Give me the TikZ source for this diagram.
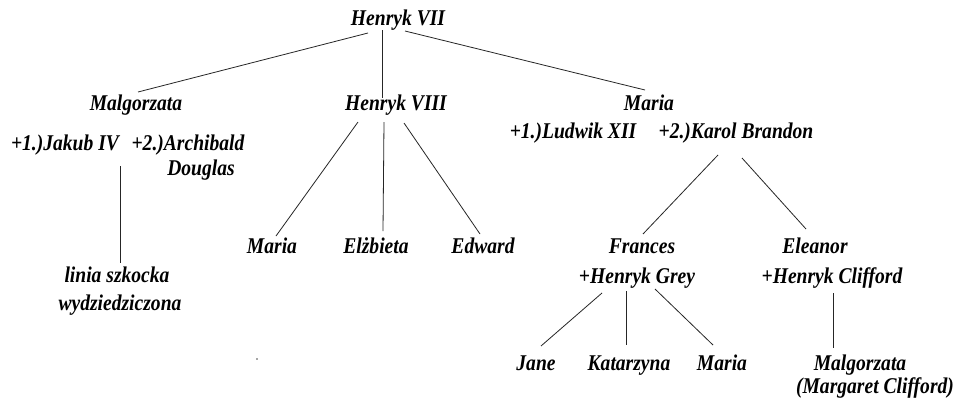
\documentclass[tikz,border=0pt]{standalone}
\usepackage{fontspec}
\setmainfont{Liberation Serif}[FakeStretch=0.87]
\begin{document}
\begin{tikzpicture}[x=1pt,y=-1pt,
  person/.style={font=\fontsize{22.5}{25}\selectfont\bfseries\itshape, inner sep=0pt, anchor=base},
  ln/.style={line width=0.8pt, draw=black!85}]
\useasboundingbox[fill=white] (0,0) rectangle (958,402);
% nodes
\node[person] (h7) at (398,25) {Henryk VII};
\node[person] (mal) at (136,110) {Malgorzata};
\node[person] (h8) at (396,110) {Henryk VIII};
\node[person] (mar) at (649,110) {Maria};
\node[person] (jak) at (65,150) {+1.)Jakub IV};
\node[person] (arch) at (188,150) {+2.)Archibald};
\node[person] (doug) at (201,175) {Douglas};
\node[person] (lin1) at (117,282) {linia szkocka};
\node[person] (lin2) at (120,310) {wydziedziczona};
\node[person] (m8) at (272,253) {Maria};
\node[person] (el) at (376,253) {Elżbieta};
\node[person] (ed) at (483,253) {Edward};
\node[person] (lud) at (573,138) {+1.)Ludwik XII};
\node[person] (kar) at (736,138) {+2.)Karol Brandon};
\node[person] (fr) at (642,253) {Frances};
\node[person] (fr2) at (637,283) {+Henryk Grey};
\node[person] (elea) at (815,253) {Eleanor};
\node[person] (elea2) at (832,283) {+Henryk Clifford};
\node[person] (jane) at (536,370) {Jane};
\node[person] (kat) at (629,370) {Katarzyna};
\node[person] (mg) at (722,370) {Maria};
\node[person] (mc1) at (860,370) {Malgorzata};
\node[person] (mc2) at (875,393) {(Margaret Clifford)};
% connector ends
\coordinate (h7l) at (368,33);
\coordinate (h7m) at (382,30);
\coordinate (h7r) at (405,31);
\coordinate (malt) at (138,92);
\coordinate (h8t) at (382,98);
\coordinate (mart) at (645,90);
\coordinate (jakb) at (120,166);
\coordinate (lint) at (120,263);
\coordinate (h8l) at (358,122);
\coordinate (h8m) at (384,122);
\coordinate (h8r) at (404,123);
\coordinate (m8t) at (276,236);
\coordinate (elt) at (383,231);
\coordinate (edt) at (480,234);
\coordinate (karl) at (718,155);
\coordinate (karr) at (742,158);
\coordinate (frt) at (643,234);
\coordinate (eleat) at (806,229);
\coordinate (grl) at (602,293);
\coordinate (grm) at (626,291);
\coordinate (grr) at (655,289);
\coordinate (janet) at (541,346);
\coordinate (katt) at (626,345);
\coordinate (mgt) at (713,345);
\coordinate (clb) at (833,293);
\coordinate (mct) at (833,348);
% connectors
\draw[ln] (h7l) -- (malt);
\draw[ln] (h7m) -- (h8t);
\draw[ln] (h7r) -- (mart);
\draw[ln] (jakb) -- (lint);
\draw[ln] (h8l) -- (m8t);
\draw[ln] (h8m) -- (elt);
\draw[ln] (h8r) -- (edt);
\draw[ln] (karl) -- (frt);
\draw[ln] (karr) -- (eleat);
\draw[ln] (grl) -- (janet);
\draw[ln] (grm) -- (katt);
\draw[ln] (grr) -- (mgt);
\draw[ln] (clb) -- (mct);
% stray dot
\fill[black!70] (257,359) circle (0.8);
\end{tikzpicture}
\end{document}
